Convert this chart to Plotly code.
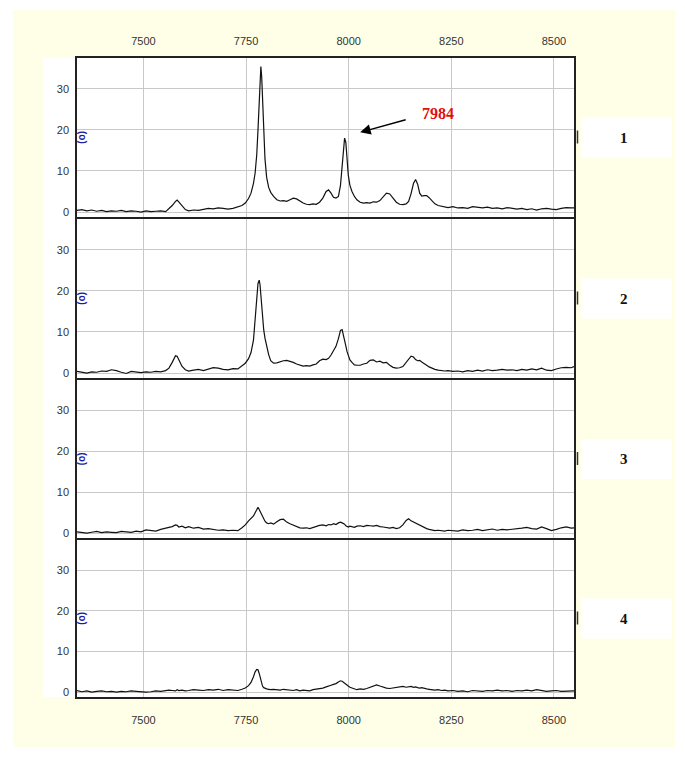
import plotly.graph_objects as go

# ---------------- data ----------------
mz = [
    7338, 7350, 7362, 7374, 7386, 7398, 7410, 7422, 7434, 7446,
    7458, 7470, 7482, 7494, 7506, 7518, 7530, 7542, 7554, 7562,
    7570, 7578, 7582, 7586, 7594, 7602, 7610, 7622, 7634, 7646,
    7658, 7670, 7682, 7694, 7706, 7718, 7730, 7740, 7748, 7756,
    7762, 7768, 7772, 7776, 7779, 7782, 7784, 7786, 7788, 7790,
    7793, 7796, 7800, 7805, 7810, 7817, 7825, 7833, 7841, 7849,
    7857, 7865, 7873, 7881, 7889, 7897, 7905, 7913, 7921, 7929,
    7937, 7945, 7951, 7957, 7963, 7969, 7975, 7980, 7984, 7987,
    7990, 7993, 7996, 7999, 8003, 8008, 8014, 8020, 8028, 8036,
    8044, 8052, 8060, 8068, 8076, 8084, 8092, 8100, 8108, 8116,
    8124, 8132, 8140, 8146, 8152, 8158, 8163, 8168, 8173, 8178,
    8184, 8190, 8196, 8202, 8210, 8218, 8226, 8234, 8242, 8254,
    8266, 8278, 8290, 8302, 8314, 8326, 8338, 8350, 8362, 8374,
    8386, 8398, 8410, 8422, 8434, 8446, 8458, 8470, 8482, 8494,
    8506, 8518, 8530, 8542, 8549,
]

spectrum_1 = [
    0.4, 0.6, 0.3, 0.5, 0.2, 0.4, 0.1, 0.3, 0.2, 0.4,
    0.1, 0.3, 0.2, 0.0, 0.3, 0.1, 0.2, 0.3, 0.1, 0.8,
    1.6, 2.6, 2.9, 2.5, 1.4, 0.6, 0.3, 0.5, 0.4, 0.6,
    0.9, 0.8, 1.0, 0.9, 0.7, 0.9, 1.2, 1.6, 2.2, 3.3,
    4.6, 7.0, 9.5, 14.0, 20.0, 27.0, 32.0, 35.4, 33.0, 27.0,
    19.0, 13.0, 8.5, 6.0, 4.8, 3.8, 3.0, 2.7, 2.8, 2.6,
    3.0, 3.4, 3.2, 2.6, 2.2, 1.9, 1.8, 2.0, 1.9, 2.4,
    3.4, 5.0, 5.4, 4.6, 3.6, 3.4, 3.8, 6.5, 11.0, 15.5,
    18.0, 17.0, 13.0, 9.0, 6.5, 5.0, 3.8, 3.0, 2.4, 2.2,
    2.3, 2.2, 2.5, 2.4, 2.8, 3.8, 4.6, 4.4, 3.3, 2.4,
    1.9, 1.8, 2.0, 2.6, 4.5, 7.0, 7.9, 6.8, 4.6, 3.9,
    4.0, 4.0, 3.5, 2.9, 2.0, 1.6, 1.4, 1.2, 1.1, 1.3,
    1.0, 1.1, 0.9, 1.3, 1.1, 1.0, 1.2, 0.9, 1.0, 0.8,
    1.1, 0.9, 0.7, 0.9, 0.6, 0.8, 0.5, 0.8, 0.9, 0.7,
    0.6, 0.9, 1.1, 1.0, 1.0,
]

spectrum_2 = [
    0.4, 0.2, 0.0, 0.3, 0.2, 0.5, 0.4, 0.8, 0.6, 0.2,
    -0.1, 0.4, 0.2, 0.1, 0.3, 0.2, 0.4, 0.3, 0.6, 1.2,
    2.6, 4.2, 4.1, 3.2, 1.6, 0.8, 0.5, 0.7, 0.9, 0.6,
    1.0, 1.3, 1.2, 0.9, 0.8, 1.1, 1.0, 1.7, 2.4, 3.5,
    5.0, 8.0, 13.0, 18.5, 21.8, 22.6, 21.5, 19.0, 16.0, 13.5,
    10.5, 8.5, 6.5, 4.5, 3.0, 2.4, 2.5, 2.8, 3.0, 3.1,
    2.9, 2.6, 2.2, 1.9, 1.7, 1.8, 1.7, 2.0, 2.2, 3.0,
    3.4, 3.3, 3.6, 4.4, 5.3, 6.5, 8.4, 10.4, 10.6, 9.5,
    8.0, 6.6, 5.2, 4.2, 3.2, 2.6, 2.0, 1.9, 1.9, 2.2,
    2.4, 3.1, 3.2, 2.7, 2.9, 2.5, 2.6, 1.9, 1.4, 1.2,
    1.3, 1.6, 2.6, 3.5, 4.1, 3.9, 3.3, 3.0, 3.1, 2.7,
    2.4, 1.9, 1.5, 1.2, 0.9, 0.7, 0.6, 0.5, 0.6, 0.4,
    0.5, 0.3, 0.6, 0.4, 0.7, 0.5, 0.8, 0.6, 0.7, 0.9,
    0.7, 0.8, 0.6, 0.9, 0.7, 1.0, 0.8, 1.2, 0.7, 0.6,
    1.0, 1.3, 1.4, 1.3, 1.6,
]

spectrum_3 = [
    0.3, 0.2, 0.0, 0.2, 0.4, 0.1, 0.3, 0.2, 0.1, 0.4,
    0.3, 0.2, 0.5, 0.3, 0.8, 0.6, 0.5, 0.9, 1.1, 1.4,
    1.6, 2.0, 1.9, 1.5, 1.7, 1.3, 1.6, 1.2, 1.4, 1.0,
    1.1, 0.9, 0.7, 0.8, 0.6, 0.7, 0.6, 1.3, 2.0, 3.0,
    3.6, 4.2, 5.0, 6.0, 6.3, 5.8, 5.4, 5.0, 4.3, 3.8,
    3.2, 2.9, 2.5, 2.3, 2.5, 2.2, 2.8, 3.3, 3.4, 2.7,
    2.3, 2.0, 1.6, 1.3, 1.2, 1.3, 1.1, 1.4, 1.7, 1.9,
    2.0, 1.8, 2.1, 2.0, 2.3, 2.1, 2.5, 2.7, 2.5, 2.4,
    2.2, 1.8, 1.6, 1.5, 1.7, 1.5, 1.4, 1.7, 1.8, 1.6,
    1.9, 1.8, 1.7, 1.9, 1.6, 1.5, 1.4, 1.2, 1.4, 1.1,
    1.3, 2.0, 3.1, 3.5, 3.0, 2.7, 2.5, 2.1, 1.9, 1.6,
    1.4, 1.1, 0.9, 0.7, 0.6, 0.7, 0.6, 0.5, 0.7, 0.6,
    0.5, 0.8, 0.6, 0.7, 0.9, 0.6, 0.8, 1.0, 0.7, 0.9,
    0.8, 0.9, 1.0, 1.2, 1.4, 1.1, 1.0, 1.5, 1.1, 0.6,
    0.9, 1.3, 1.5, 1.2, 1.3,
]

spectrum_4 = [
    0.4, 0.1, 0.3, 0.0, 0.2, 0.3, 0.1, 0.2, 0.0, 0.2,
    0.1, 0.3, 0.2, 0.1, 0.0, 0.1, 0.3, 0.2, 0.4, 0.5,
    0.4, 0.3, 0.6, 0.4, 0.5, 0.3, 0.4, 0.6, 0.5, 0.4,
    0.6, 0.5, 0.7, 0.4, 0.6, 0.5, 0.4, 0.7, 1.0, 1.6,
    2.4, 3.8, 5.0, 5.6, 5.5, 4.6, 3.6, 2.8, 2.0, 1.5,
    1.1, 0.9, 0.8, 0.7, 0.6, 0.7, 0.6, 0.5, 0.7, 0.6,
    0.5, 0.4, 0.6, 0.3, 0.5, 0.4, 0.3, 0.6, 0.7, 0.9,
    1.0, 1.3, 1.6, 1.7, 1.9, 2.1, 2.5, 2.8, 2.7, 2.5,
    2.3, 2.0, 1.8, 1.5, 1.2, 1.0, 0.8, 0.6, 0.8, 0.7,
    0.9, 1.2, 1.6, 1.8, 1.5, 1.2, 1.0, 0.9, 1.0, 1.1,
    1.3, 1.4, 1.2, 1.3, 1.4, 1.2, 1.3, 1.1, 1.0, 1.1,
    0.9, 0.8, 0.7, 0.6, 0.5, 0.6, 0.4, 0.5, 0.3, 0.4,
    0.2, 0.3, 0.1, 0.4, 0.3, 0.2, 0.4, 0.3, 0.5, 0.3,
    0.4, 0.2, 0.4, 0.3, 0.5, 0.3, 0.6, 0.4, 0.2, 0.3,
    0.4, 0.2, 0.3, 0.4, 0.3,
]

panel_labels = ["1", "2", "3", "4"]
x_ticks = [7500, 7750, 8000, 8250, 8500]
y_ticks = [0, 10, 20, 30]
peak_label = "7984"
peak_mz = 8028      # arrow tip position (data units)
peak_tip_y = 19.4
label_mz = 8218
label_y = 24.0

series = [spectrum_1, spectrum_2, spectrum_3, spectrum_4]

# ---------------- layout geometry (pixels) ----------------
W, H = 685, 758
X_RANGE = [7338, 8549]
Y_RANGE = [-1.2, 37.5]
PX_LEFT, PX_RIGHT = 77, 574
PANEL_PX = [(58, 217), (219, 378), (380, 538), (540, 697)]


def px(x):
    return x / W


def py(y):
    return 1 - y / H


fig = go.Figure()

for i, ys in enumerate(series):
    k = "" if i == 0 else str(i + 1)
    fig.add_trace(go.Scatter(
        x=mz, y=ys, mode="lines",
        line=dict(color="#111111", width=1.2),
        xaxis="x" + k, yaxis="y" + k, showlegend=False,
        hoverinfo="x+y",
    ))

layout = dict(
    width=W, height=H,
    margin=dict(l=0, r=0, t=0, b=0),
    paper_bgcolor="white",
    plot_bgcolor="white",
    showlegend=False,
    font=dict(family="Liberation Sans, Arial, sans-serif", size=11, color="#333333"),
)

for i, (top, bot) in enumerate(PANEL_PX):
    k = "" if i == 0 else str(i + 1)
    xa = dict(
        domain=[px(PX_LEFT), px(PX_RIGHT)],
        range=X_RANGE,
        anchor="y" + k,
        tickvals=x_ticks,
        ticktext=[str(v) for v in x_ticks],
        showgrid=True, gridcolor="#c8c8c8", gridwidth=1,
        zeroline=False,
        showline=True, mirror=True, linecolor="#222222", linewidth=1.5,
        showticklabels=(i == 0 or i == 3),
        ticks="outside", tickcolor="rgba(0,0,0,0)",
        ticklen=7 if i == 0 else 12,
        side="top" if i == 0 else "bottom",
        tickfont=dict(size=11, color="#333333"),
        fixedrange=True,
    )
    ya = dict(
        domain=[py(bot), py(top)],
        range=Y_RANGE,
        anchor="x" + k,
        tickvals=y_ticks,
        showgrid=True, gridcolor="#c8c8c8", gridwidth=1,
        zeroline=False,
        showline=True, mirror=True, linecolor="#222222", linewidth=1.5,
        ticks="outside", tickcolor="rgba(0,0,0,0)", ticklen=4,
        tickfont=dict(size=11, color="#333333"),
        fixedrange=True,
    )
    layout["xaxis" + k] = xa
    layout["yaxis" + k] = ya

fig.update_layout(**layout)

shapes = []
# cream background
shapes.append(dict(type="rect", xref="paper", yref="paper",
                   x0=px(13), x1=px(675), y0=py(747), y1=py(10),
                   fillcolor="#FFFFE8", line=dict(width=0), layer="below"))
# white block behind the panels and y labels
shapes.append(dict(type="rect", xref="paper", yref="paper",
                   x0=px(43), x1=px(575), y0=py(697), y1=py(58),
                   fillcolor="white", line=dict(width=0), layer="below"))

annotations = []
for i, (top, bot) in enumerate(PANEL_PX):
    k = "" if i == 0 else str(i + 1)
    c = (top + bot) / 2
    shapes.append(dict(type="rect", xref="paper", yref="paper",
                       x0=px(581), x1=px(672), y0=py(c + 20), y1=py(c - 20),
                       fillcolor="white", line=dict(width=0), layer="below"))
    shapes.append(dict(type="line", xref="paper", yref="paper",
                       x0=px(577.5), x1=px(577.5), y0=py(c + 6), y1=py(c - 7),
                       line=dict(color="#333333", width=1.5)))
    annotations.append(dict(
        xref="paper", yref="paper", x=px(624), y=py(c),
        text="<b>" + panel_labels[i] + "</b>", showarrow=False,
        font=dict(family="Liberation Serif, Times New Roman, serif", size=15, color="#111111"),
        xanchor="center", yanchor="middle"))
    annotations.append(dict(
        xref="x" + k, yref="y" + k, x=7351, y=18.2,
        text="<b>(o)</b>", textangle=90, showarrow=False,
        font=dict(family="Liberation Sans, Arial", size=10, color="#1c1ca8"),
        xanchor="center", yanchor="middle"))

annotations.append(dict(
    xref="x", yref="y", x=peak_mz, y=peak_tip_y,
    ax=47, ay=-13, text="", showarrow=True,
    arrowhead=2, arrowsize=1.5, arrowwidth=1.4, arrowcolor="#000000"))
annotations.append(dict(
    xref="x", yref="y", x=label_mz, y=label_y,
    text="<b>" + peak_label + "</b>", showarrow=False,
    font=dict(family="Liberation Serif, Times New Roman, serif", size=16, color="#e01010"),
    xanchor="center", yanchor="middle"))

fig.update_layout(shapes=shapes, annotations=annotations)

fig.write_html("out.html", config={"displayModeBar": False},
               post_script="document.body.style.margin='0';")
